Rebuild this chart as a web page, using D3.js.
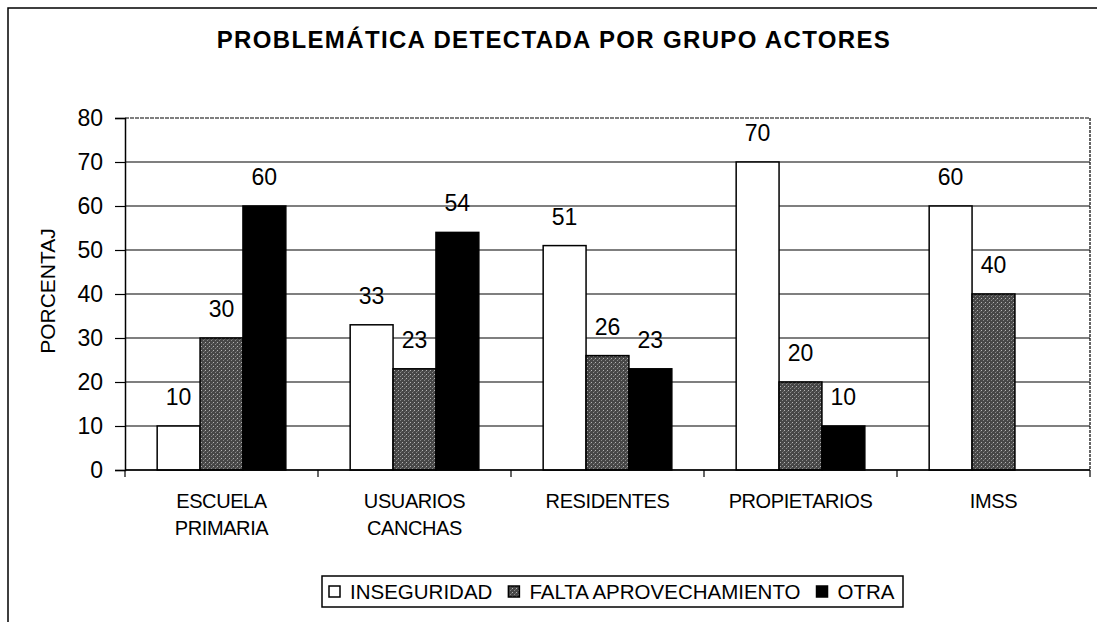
<!DOCTYPE html>
<html lang="es">
<head>
  <meta charset="UTF-8">
  <title>Problemática detectada por grupo actores</title>
  <script src="https://d3js.org/d3.v7.min.js"></script>
  <style>
    body { margin: 0; background: #fff; overflow: hidden; }
    svg { display: block; }
    text { font-family: "Liberation Sans", Arial, sans-serif; fill: #000; }
  </style>
</head>
<body>
<svg id="chart" width="1097" height="622"></svg>

<script>
// datos
const categories = ["ESCUELA PRIMARIA", "USUARIOS CANCHAS", "RESIDENTES", "PROPIETARIOS", "IMSS"];
const categoryLines = [["ESCUELA", "PRIMARIA"], ["USUARIOS", "CANCHAS"], ["RESIDENTES"], ["PROPIETARIOS"], ["IMSS"]];
const series = ["INSEGURIDAD", "FALTA APROVECHAMIENTO", "OTRA"];
const inseguridad = [10, 33, 51, 70, 60];
const faltaAprovechamiento = [30, 23, 26, 20, 40];
const otra = [60, 54, 23, 10, null];
const yTicks = [0, 10, 20, 30, 40, 50, 60, 70, 80];

const values = [inseguridad, faltaAprovechamiento, otra];

const svg = d3.select('#chart');
const W = 1097, H = 622;
const margin = { left: 125, right: 7, top: 118, bottom: 152 };
const innerW = W - margin.left - margin.right;
const innerH = H - margin.top - margin.bottom;

// relleno punteado gris oscuro
const defs = svg.append('defs');
const pat = defs.append('pattern')
  .attr('id', 'stipple')
  .attr('patternUnits', 'userSpaceOnUse')
  .attr('width', 4).attr('height', 4);
pat.append('rect').attr('width', 4).attr('height', 4).attr('fill', '#474747');
pat.append('rect').attr('x', 0).attr('y', 0).attr('width', 1).attr('height', 1).attr('fill', '#b5b5b5');
pat.append('rect').attr('x', 2).attr('y', 2).attr('width', 1).attr('height', 1).attr('fill', '#8a8a8a');
pat.append('rect').attr('x', 3).attr('y', 1).attr('width', 1).attr('height', 1).attr('fill', '#666');

const fills = ['#ffffff', 'url(#stipple)', '#000000'];

// marco exterior (izquierda y arriba)
svg.append('path')
  .attr('d', `M8,${H} L8,8 L${W},8`)
  .attr('fill', 'none')
  .attr('stroke', '#000')
  .attr('stroke-width', 1.5);

// título
svg.append('text')
  .attr('x', 554)
  .attr('y', 48)
  .attr('text-anchor', 'middle')
  .style('font-size', '24px')
  .style('font-weight', 'bold')
  .style('letter-spacing', '1.35px')
  .text('PROBLEMÁTICA DETECTADA POR GRUPO ACTORES');

const g = svg.append('g').attr('transform', `translate(${margin.left},${margin.top})`);

const x0 = d3.scaleBand().domain(categories).range([0, innerW]).padding(0);
const x1 = d3.scaleBand().domain(series).range([0, x0.bandwidth()]).paddingInner(0).paddingOuter(0.75);
const y = d3.scaleLinear().domain([0, 80]).range([innerH, 0]);

// líneas de cuadrícula
g.append('g')
  .selectAll('line')
  .data(yTicks)
  .join('line')
  .attr('x1', 0).attr('x2', innerW)
  .attr('y1', d => y(d)).attr('y2', d => y(d))
  .attr('stroke', '#000')
  .attr('stroke-width', 1.2)
  .attr('stroke-dasharray', d => d === 80 ? '4,1' : null);

// borde derecho del área
g.append('line')
  .attr('x1', innerW).attr('x2', innerW)
  .attr('y1', 0).attr('y2', innerH)
  .attr('stroke', '#000')
  .attr('stroke-width', 1.2)
  .attr('stroke-dasharray', '3,1');

// barras
const groups = g.append('g')
  .selectAll('g')
  .data(categories)
  .join('g')
  .attr('transform', d => `translate(${x0(d)},0)`);

const rowsOf = (d, i) => series.map((s, k) => ({ s, k, v: values[k][i] })).filter(e => e.v != null);

groups.selectAll('rect')
  .data(rowsOf)
  .join('rect')
  .attr('x', d => x1(d.s))
  .attr('width', x1.bandwidth())
  .attr('y', d => y(d.v))
  .attr('height', d => y(0) - y(d.v))
  .attr('fill', d => fills[d.k])
  .attr('stroke', '#000')
  .attr('stroke-width', 1.5);

// etiquetas de valor
groups.selectAll('text.val')
  .data(rowsOf)
  .join('text')
  .attr('class', 'val')
  .attr('x', d => x1(d.s) + x1.bandwidth() / 2)
  .attr('y', d => y(d.v) - 21)
  .attr('text-anchor', 'middle')
  .style('font-size', '23px')
  .text(d => d.v);

// eje Y
const yAxis = d3.axisLeft(y).tickValues(yTicks).tickSize(10).tickPadding(12);
const yg = g.append('g').call(yAxis);
yg.select('.domain').attr('stroke', '#000').attr('stroke-width', 1.5);
yg.selectAll('.tick line').attr('stroke', '#000').attr('stroke-width', 1.2);
yg.selectAll('.tick text')
  .style('font-size', '23px')
  .style('font-family', '"Liberation Sans", Arial, sans-serif')
  .attr('fill', '#000');

// eje X: marcas en los límites de cada grupo
const xg = g.append('g').attr('transform', `translate(0,${innerH})`);
xg.append('line')
  .attr('x1', 0).attr('x2', innerW)
  .attr('stroke', '#000').attr('stroke-width', 1.5);
xg.selectAll('line.tk')
  .data(categories.concat(['__end']))
  .join('line')
  .attr('class', 'tk')
  .attr('x1', d => d === '__end' ? innerW : x0(d))
  .attr('x2', d => d === '__end' ? innerW : x0(d))
  .attr('y1', 0).attr('y2', 7)
  .attr('stroke', '#000').attr('stroke-width', 1.2);

const catText = xg.selectAll('text.cat')
  .data(categories)
  .join('text')
  .attr('class', 'cat')
  .attr('text-anchor', 'middle')
  .attr('x', d => x0(d) + x0.bandwidth() / 2)
  .attr('y', 38)
  .style('font-size', '20px')
  .style('letter-spacing', '-0.4px');
catText.selectAll('tspan')
  .data((d, i) => categoryLines[i])
  .join('tspan')
  .attr('x', function () { return d3.select(this.parentNode).attr('x'); })
  .attr('dy', (d, i) => i === 0 ? 0 : 27)
  .text(d => d);

// título del eje Y
svg.append('text')
  .attr('transform', 'translate(55,291) rotate(-90)')
  .attr('text-anchor', 'middle')
  .style('font-size', '21px')
  .text('PORCENTAJ');

// leyenda
const legend = svg.append('g');
legend.append('rect')
  .attr('x', 322).attr('y', 576)
  .attr('width', 581).attr('height', 31)
  .attr('fill', '#fff')
  .attr('stroke', '#000')
  .attr('stroke-width', 1.5);

let lx = 329;
series.forEach((s, k) => {
  legend.append('rect')
    .attr('x', lx).attr('y', 586)
    .attr('width', 11).attr('height', 11)
    .attr('fill', fills[k])
    .attr('stroke', '#000')
    .attr('stroke-width', 1.5);
  const t = legend.append('text')
    .attr('x', lx + 21).attr('y', 599)
    .style('font-size', '20.5px')
    .style('letter-spacing', '0px')
    .text(s);
  lx += 21 + t.node().getComputedTextLength() + 16;
});
</script>
</body>
</html>
